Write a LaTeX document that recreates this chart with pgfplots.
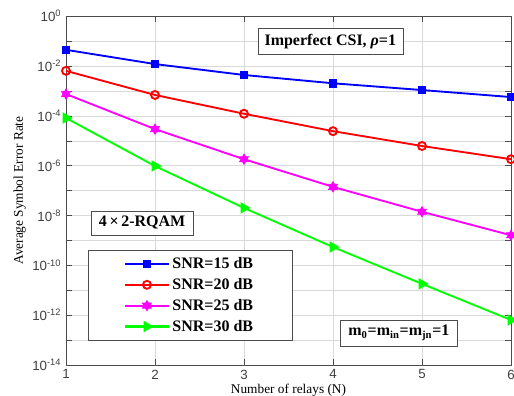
\documentclass[border=0pt]{standalone}
\usepackage{fontspec}
\setmainfont{Liberation Serif}
\newfontfamily\sans{Liberation Sans}
\usepackage{pgfplots}
\pgfplotsset{compat=1.18}
\definecolor{cB}{rgb}{0,0,1}
\definecolor{cR}{rgb}{1,0,0}
\definecolor{cM}{rgb}{1,0,1}
\definecolor{cG}{rgb}{0,1,0}
\pgfdeclareplotmark{hexagram}{%
  \pgfsetlinewidth{0.6pt}%
  \pgfpathmoveto{\pgfqpointpolar{90}{\pgfplotmarksize}}%
  \pgfpathlineto{\pgfqpointpolar{210}{\pgfplotmarksize}}%
  \pgfpathlineto{\pgfqpointpolar{330}{\pgfplotmarksize}}%
  \pgfpathclose
  \pgfpathmoveto{\pgfqpointpolar{270}{\pgfplotmarksize}}%
  \pgfpathlineto{\pgfqpointpolar{30}{\pgfplotmarksize}}%
  \pgfpathlineto{\pgfqpointpolar{150}{\pgfplotmarksize}}%
  \pgfpathclose
  \pgfusepathqfillstroke}
\begin{document}
\begin{tikzpicture}
\useasboundingbox (-49.5pt,-23.25pt) rectangle (336pt,273.75pt);
\begin{axis}[
  at={(0,0)}, anchor=south west,
  scale only axis, width=333.75pt, height=261.75pt,
  xmin=1, xmax=6, ymode=log, ymin=1e-14, ymax=1,
  xtick={1,2,3,4,5,6},
  xticklabels={\sans 1,\sans 2,\sans 3,\sans 4,\sans 5,\sans 6},
  ytick={1e-14,1e-12,1e-10,1e-8,1e-6,1e-4,1e-2,1},
  yticklabels={\sans 10\textsuperscript{-14},\sans 10\textsuperscript{-12},\sans 10\textsuperscript{-10},\sans 10\textsuperscript{-8},\sans 10\textsuperscript{-6},\sans 10\textsuperscript{-4},\sans 10\textsuperscript{-2},\sans 10\textsuperscript{0}},
  extra y ticks={1e-13,1e-11,1e-9,1e-7,1e-5,1e-3,1e-1},
  extra y tick labels={},
  extra y tick style={grid=major, major grid style={gray!30, very thin}},
  tick label style={font=\fontsize{10}{12}\selectfont, color=black!75},
  xmajorgrids, ymajorgrids, yminorgrids,
  major grid style={gray!30, very thin},
  minor grid style={gray!40, dotted, very thin},
  tick align=inside, axis line style={black!70, thin},
  tick style={black!70},
  xlabel={Number of relays (N)},
  ylabel={Average Symbol Error Rate},
  label style={font=\fontsize{10}{12}\selectfont},
  xlabel style={yshift=3pt},
  ylabel style={yshift=-2pt},
  legend style={at={(rel axis cs:0.049,0.33)}, anchor=north west,
    font=\bfseries\fontsize{12}{14}\selectfont, draw=black!70, row sep=1.8pt,
    inner xsep=27pt, inner ysep=3.5pt},
  legend cell align=left,
  legend image code/.code={\draw[#1, line width=1.6pt] (0cm,0cm) -- (1.15cm,0cm); \draw[#1, only marks] plot coordinates {(0.575cm,0cm)};},
]
\addplot[cB, line width=1.4pt, mark=square*, mark size=2.5pt] coordinates {
(1,0.044) (2,0.0118) (3,0.0043) (4,0.0020) (5,0.00107) (6,0.00056)};
\addplot[cR, line width=1.4pt, mark=o, mark size=3pt] coordinates {
(1,6.3e-3) (2,6.8e-4) (3,1.2e-4) (4,2.4e-5) (5,6.1e-6) (6,1.8e-6)};
\addplot[cM, line width=1.4pt, mark=hexagram, mark size=3.8pt] coordinates {
(1,7.4e-4) (2,2.9e-5) (3,1.8e-6) (4,1.4e-7) (5,1.4e-8) (6,1.6e-9)};
\addplot[cG, line width=1.4pt, mark=triangle*, mark size=3.6pt, mark options={rotate=-90}] coordinates {
(1,8.1e-5) (2,9.6e-7) (3,2.0e-8) (4,5.4e-10) (5,1.8e-11) (6,6.4e-13)};
\legend{SNR=15 dB,SNR=20 dB,SNR=25 dB,SNR=30 dB}
\node[draw=black!70, fill=white, font=\bfseries\fontsize{12}{14}\selectfont, inner xsep=5pt, inner ysep=4pt] at (rel axis cs:0.594,0.928) {Imperfect CSI, \textit{ρ}=1};
\node[draw=black!70, fill=white, font=\bfseries\fontsize{12}{14}\selectfont, inner xsep=6pt, inner ysep=4pt] at (rel axis cs:0.171,0.407) {4\,×\,2-RQAM};
\node[draw=black!70, fill=white, font=\bfseries\fontsize{12}{14}\selectfont, inner xsep=6pt, inner ysep=4pt] at (rel axis cs:0.748,0.092) {m\textsubscript{0}=m\textsubscript{in}=m\textsubscript{jn}=1};
\end{axis}
\end{tikzpicture}
\end{document}
